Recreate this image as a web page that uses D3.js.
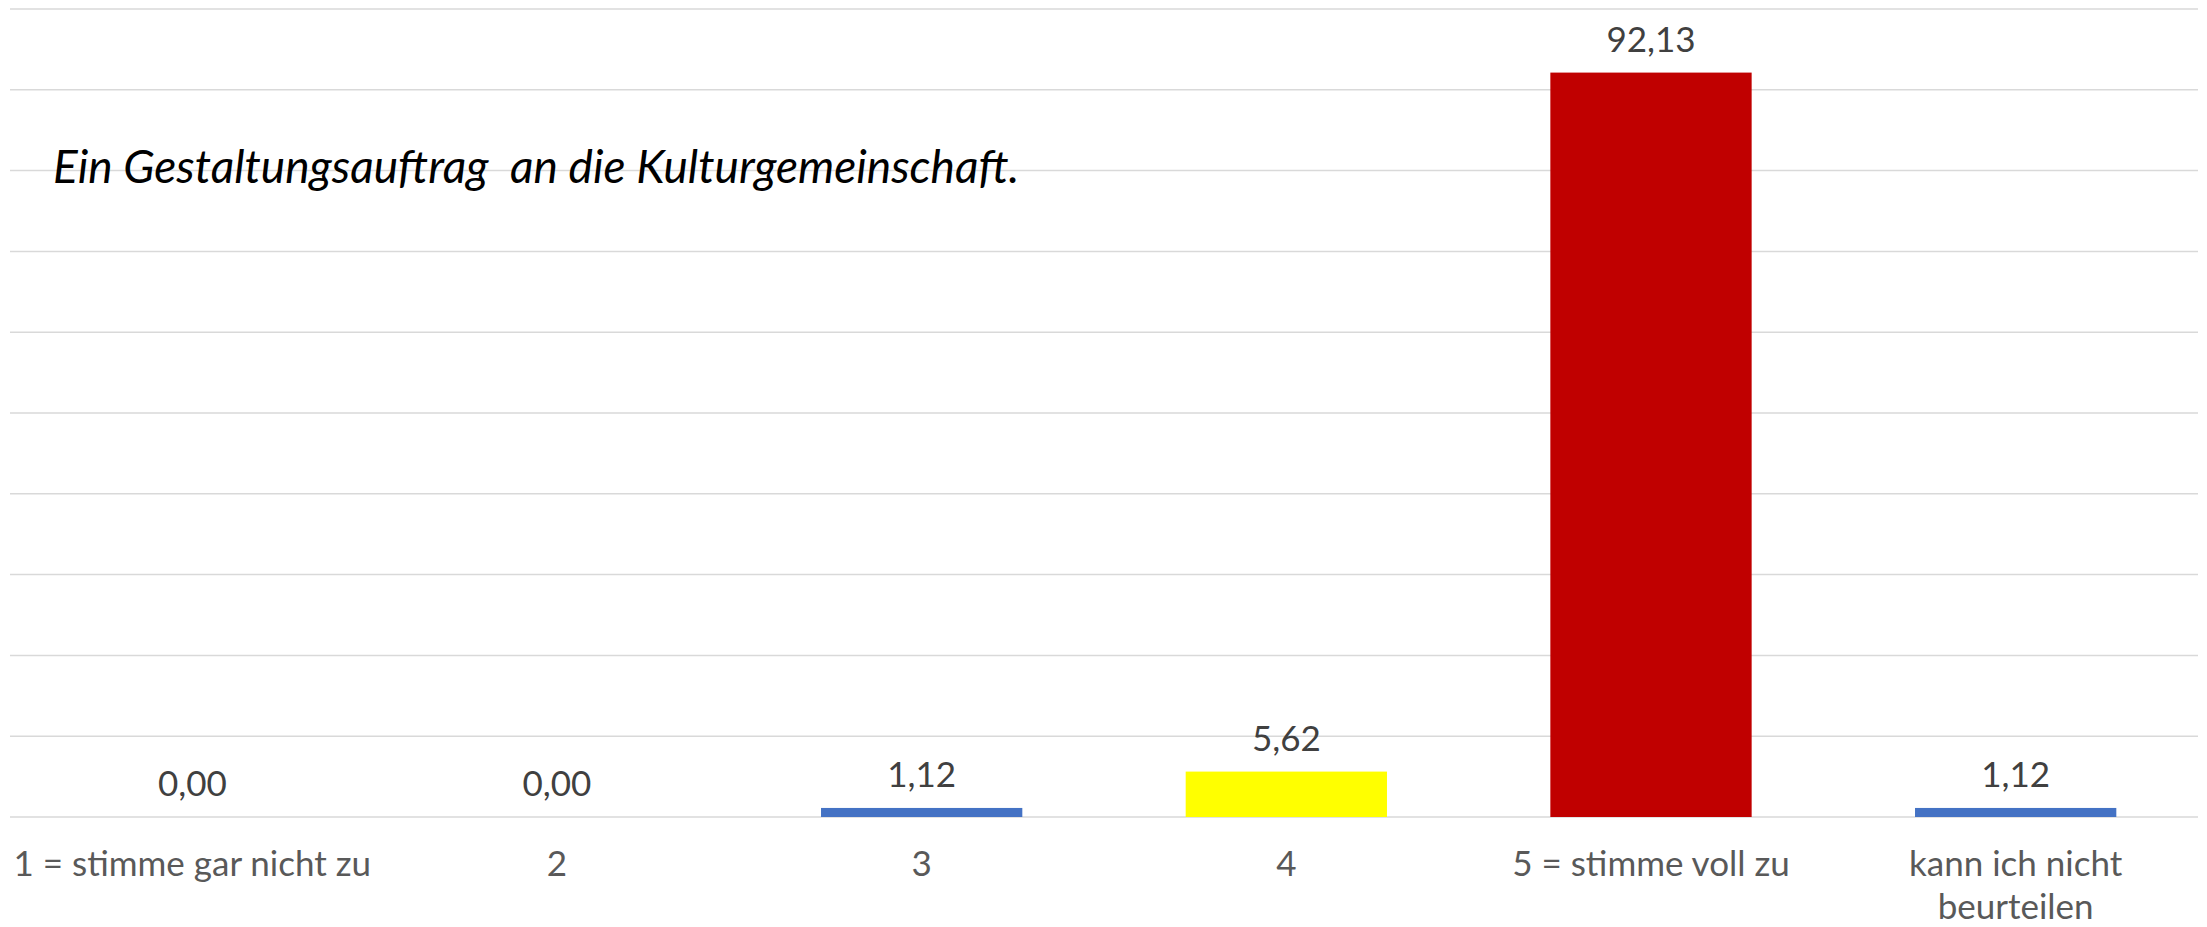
<!DOCTYPE html>
<html>
<head>
<meta charset="utf-8">
<script src="https://cdn.jsdelivr.net/npm/d3@7"></script>
<style>
  body { margin: 0; background: #fff; }
  svg { display: block; }
</style>
</head>
<body>
<svg id="chart"></svg>
<script>
// data
const categories = ["1 = stimme gar nicht zu", "2", "3", "4", "5 = stimme voll zu", "kann ich nicht beurteilen"];
const values = [0.00, 0.00, 1.12, 5.62, 92.13, 1.12];
const barColors = ["#4472C4", "#4472C4", "#4472C4", "#FFFF00", "#C00000", "#4472C4"];
const yTicks = [0, 10, 20, 30, 40, 50, 60, 70, 80, 90, 100];
const title = "Ein Gestaltungsauftrag\u00a0 an die Kulturgemeinschaft.";

const W = 2207, H = 927;
const plotLeft = 10, plotRight = 2198, plotTop = 9, plotBottom = 817;
const font = "Lato, 'Open Sans', sans-serif";

const svg = d3.select("#chart").attr("width", W).attr("height", H);

const x = d3.scaleBand().domain(categories).range([plotLeft, plotRight]).padding(0);
const y = d3.scaleLinear().domain([0, 100]).range([plotBottom, plotTop]);
const barW = x.bandwidth() * 0.552;

// gridlines
svg.append("g").selectAll("line")
  .data(yTicks)
  .join("line")
  .attr("x1", plotLeft).attr("x2", plotRight)
  .attr("y1", d => y(d)).attr("y2", d => y(d))
  .attr("stroke", "#d9d9d9")
  .attr("stroke-width", 1.5);

// bars
svg.append("g").selectAll("rect")
  .data(values)
  .join("rect")
  .attr("x", (d, i) => x(categories[i]) + (x.bandwidth() - barW) / 2)
  .attr("y", d => y(d))
  .attr("width", barW)
  .attr("height", d => plotBottom - y(d))
  .attr("fill", (d, i) => barColors[i]);

// value labels
const fmt = v => d3.format(".2f")(v).replace(".", ",");
svg.append("g").selectAll("text")
  .data(values)
  .join("text")
  .attr("x", (d, i) => x(categories[i]) + x.bandwidth() / 2)
  .attr("y", d => y(d) - 21)
  .attr("text-anchor", "middle")
  .attr("font-family", font)
  .attr("font-size", 35)
  .attr("fill", "#404040")
  .text(d => fmt(d));

// category labels (wrapped like the original)
const catLines = {"kann ich nicht beurteilen": ["kann ich nicht", "beurteilen"]};
const catG = svg.append("g");
categories.forEach(c => {
  const lines = catLines[c] || [c];
  const t = catG.append("text")
    .attr("x", x(c) + x.bandwidth() / 2)
    .attr("y", 876)
    .attr("text-anchor", "middle")
    .attr("font-family", font)
    .attr("font-size", 35)
    .attr("fill", "#595959");
  lines.forEach((l, i) => {
    t.append("tspan")
      .attr("x", x(c) + x.bandwidth() / 2)
      .attr("dy", i === 0 ? 0 : 43)
      .text(l);
  });
});

// title inside the plot
svg.append("text")
  .attr("x", 53)
  .attr("y", 183)
  .attr("font-family", font)
  .attr("font-style", "italic")
  .attr("font-size", 46)
  .attr("fill", "#000")
  .text(title);
</script>
</body>
</html>
